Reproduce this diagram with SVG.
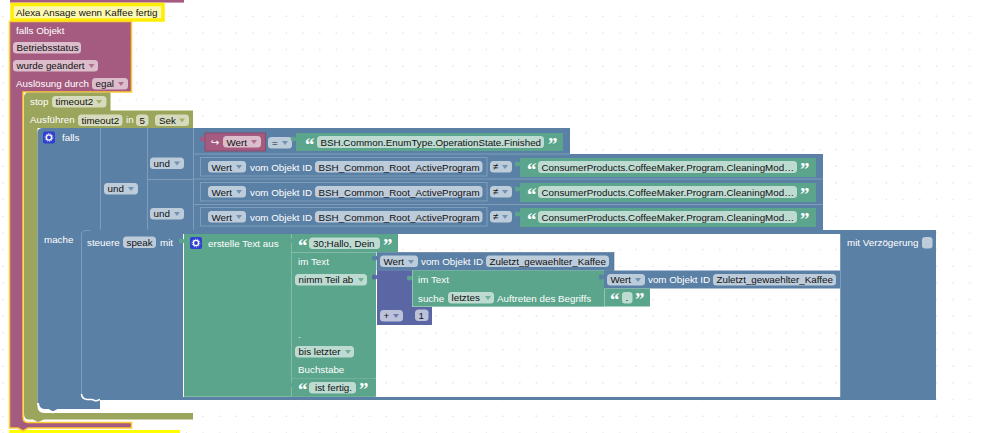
<svg xmlns="http://www.w3.org/2000/svg" xmlns:xlink="http://www.w3.org/1999/xlink" width="983" height="433" viewBox="0 0 983 433">
<style>
text{font-family:"Liberation Sans",Arial,sans-serif;font-size:9.8px}
.w{fill:#fff}.k{fill:#111}
.q{font-family:"Liberation Serif",serif;font-size:19px;font-weight:bold;fill:#fff}
.fl{fill:#fff;fill-opacity:.6}
.pk{fill:#a55b80}.ol{fill:#9ba55b}.bl{fill:#5b80a5}.gr{fill:#5ba58c}.pu{fill:#5b67a5}
.lb{stroke:#7f9cb9;stroke-width:1;fill:none}
.lg{stroke:#82bba7;stroke-width:1;fill:none}
.a{fill:#5b80a5;fill-opacity:.75}
.ag{fill:#5ba58c;fill-opacity:.8}
.ap{fill:#a55b80;fill-opacity:.8}
.ao{fill:#9ba55b}
.au{fill:#5b67a5}
</style>
<defs>
<pattern id="grid" patternUnits="userSpaceOnUse" x="2.67" y="-0.67" width="16.667" height="16.667">
<path d="M0,0H1.2M15.667,0H16.667M0.2,15.9V16.667M0.2,0V1" stroke="#dcdcdc" stroke-width="0.8" fill="none"/>
</pattern>
<path id="tri" d="M0,0h6l-3,4z"/>
<path id="tab" d="M0,0c0,4 -5,-3 -5,3s5,-1 5,3z"/>
<g id="gear"><rect width="12" height="12" rx="2" fill="#2f3fd0"/><circle cx="6" cy="6" r="2.600" fill="none" stroke="#fff" stroke-width="1.400"/><circle cx="6" cy="6" r="3.900" fill="none" stroke="#fff" stroke-width=".8" stroke-dasharray="1.200 1.200"/></g>
</defs>
<rect width="983" height="433" fill="#fff"/>
<rect width="983" height="433" fill="url(#grid)"/>

<g id="block-top"><rect class="pk" x="10" y="0" width="174" height="2.600"/></g>

<g id="comment-bottom"><rect x="9" y="430" width="171" height="3" fill="#ffff00"/></g>
<g id="comment">
<path d="M12,4.500H163V20H12z" fill="#fbf8b4" stroke="#ffee00" stroke-width="3.500"/>
<text class="k" x="16" y="15.500">Alexa Ansage wenn Kaffee fertig</text>
</g>

<g id="trigger">
<path class="pk" d="M9.500,21.500H131.500V92H23V417Q23,422.500 28,422.500H131.500V428H28L23,431L18,428H9.500z" stroke="#fc3" stroke-width="1.500"/>
<text class="w" x="16" y="33.500">falls Objekt</text>
<rect class="fl" x="13" y="42" width="68" height="11.500" rx="3.500"/><text class="k" x="16.500" y="51">Betriebsstatus</text>
<rect class="fl" x="13" y="60" width="85" height="11.500" rx="3.500"/><text class="k" x="16.500" y="69">wurde geändert</text><use href="#tri" class="ap" x="88.500" y="64"/>
<text class="w" x="16" y="87">Auslösung durch</text>
<rect class="fl" x="92" y="78" width="36" height="11.500" rx="3.500"/><text class="k" x="95.500" y="87">egal</text><use href="#tri" class="ap" x="118" y="82"/>
</g>

<g id="timeout">
<path class="ol" d="M24,97Q24,92.500 29,92.500H110.500V110.500H193V128H37.500V406Q37.500,413 44,413H193V419.500H44L38,422L33,419.500H29Q24,419.500 24,414z"/>
<text class="w" x="30" y="105">stop</text>
<rect class="fl" x="52" y="96" width="54.500" height="11.500" rx="3.500"/><text class="k" x="55.500" y="105">timeout2</text><use href="#tri" class="ao" x="96" y="100" fill-opacity=".8"/>
<text class="w" x="30" y="123">Ausführen</text>
<rect class="fl" x="78" y="114.500" width="44.500" height="11.500" rx="3.500"/><text class="k" x="81.500" y="123.500">timeout2</text>
<text class="w" x="126" y="123">in</text>
<rect class="fl" x="136" y="114.500" width="12.500" height="11.500" rx="3.500"/><text class="k" x="139.500" y="123.500">5</text>
<rect class="fl" x="155" y="114.500" width="34" height="11.500" rx="3.500"/><text class="k" x="159" y="123.500">Sek</text><use href="#tri" class="ao" x="179" y="118.500" fill-opacity=".8"/>
</g>

<g id="if-block">
<path class="bl" d="M37.500,133Q37.500,128 43,128H570V154H823V230.500H100V409H58L53,412L48,409H43Q37.500,409 37.500,403z"/>
<path d="M38,403Q38.500,409.500 44,410H48L53,412.500L58,410H100.500" fill="none" stroke="#fff" stroke-width="2"/>
<path class="lb" d="M100.500,128V230M147.500,128V230M193.500,128V230M193.500,154H570M147.500,179.500H193.500M193.500,179H823M193.500,204.500H823"/>
<use href="#gear" x="43" y="131.500"/>
<text class="w" x="62" y="141">falls</text>
<rect class="fl" x="104" y="183" width="34" height="11.500" rx="3.500"/><text class="k" x="107.500" y="192">und</text><use href="#tri" class="a" x="128" y="187"/>
<rect class="fl" x="150" y="157.500" width="34" height="11.500" rx="3.500"/><text class="k" x="153.500" y="166.500">und</text><use href="#tri" class="a" x="174" y="161.500"/>
<rect class="fl" x="150" y="208" width="34" height="11.500" rx="3.500"/><text class="k" x="153.500" y="217">und</text><use href="#tri" class="a" x="174" y="212"/>
</g>

<g id="value-wert-1">
<use href="#tab" class="pk" x="205" y="136"/>
<rect class="pk" x="205" y="133" width="60.500" height="18" stroke="#8a4a6a"/>
<text class="w" x="211" y="146" style="font-family:'DejaVu Sans',sans-serif;font-size:10px">↪</text>
<rect class="fl" x="223" y="136" width="38" height="11.500" rx="3.500"/><text class="k" x="226.500" y="145.500">Wert</text><use href="#tri" class="ap" x="251" y="140"/>
<rect class="fl" x="268" y="137" width="24" height="11.500" rx="3.500"/><text class="k" x="272" y="146">=</text><use href="#tri" class="a" x="282" y="141"/>
</g>
<g id="text-finished">
<use href="#tab" class="gr" x="296" y="136"/>
<rect class="gr" x="296" y="133" width="267" height="18"/>
<text class="q" x="305" y="151">“</text>
<rect class="fl" x="317" y="136" width="227" height="12" rx="3.500"/><text class="k" x="320.500" y="145.500">BSH.Common.EnumType.OperationState.Finished</text>
<text class="q" x="548" y="151">”</text>
</g>

<g id="compare-2">
<use href="#tab" class="bl" x="200" y="160"/>
<rect class="bl" x="200.500" y="157.500" width="286.500" height="18.500" stroke="#7f9cb9"/>
<rect class="fl" x="208" y="161" width="38" height="11.500" rx="3.500"/><text class="k" x="211.500" y="170.500">Wert</text><use href="#tri" class="a" x="236" y="165"/>
<text class="w" x="250" y="170.500">vom Objekt ID</text>
<rect class="fl" x="315" y="161" width="167.500" height="11.500" rx="3.500"/><text class="k" x="318.500" y="170.500">BSH_Common_Root_ActiveProgram</text>
<rect class="fl" x="490" y="161" width="22" height="11.500" rx="3.500"/><text class="k" x="493" y="170">≠</text><use href="#tri" class="a" x="502" y="165"/>
<use href="#tab" class="gr" x="520" y="161"/>
<rect class="gr" x="520" y="158" width="296" height="19"/>
<text class="q" x="527" y="176">“</text>
<rect class="fl" x="538" y="161" width="259" height="12" rx="3.500"/><text class="k" x="541.500" y="170.500">ConsumerProducts.CoffeeMaker.Program.CleaningMod…</text>
<text class="q" x="800" y="176">”</text>
</g>
<g id="compare-3">
<use href="#tab" class="bl" x="200" y="185"/>
<rect class="bl" x="200.500" y="182.500" width="286.500" height="18.500" stroke="#7f9cb9"/>
<rect class="fl" x="208" y="186" width="38" height="11.500" rx="3.500"/><text class="k" x="211.500" y="195.500">Wert</text><use href="#tri" class="a" x="236" y="190"/>
<text class="w" x="250" y="195.500">vom Objekt ID</text>
<rect class="fl" x="315" y="186" width="167.500" height="11.500" rx="3.500"/><text class="k" x="318.500" y="195.500">BSH_Common_Root_ActiveProgram</text>
<rect class="fl" x="490" y="186" width="22" height="11.500" rx="3.500"/><text class="k" x="493" y="195">≠</text><use href="#tri" class="a" x="502" y="190"/>
<use href="#tab" class="gr" x="520" y="186"/>
<rect class="gr" x="520" y="183" width="296" height="19"/>
<text class="q" x="527" y="201">“</text>
<rect class="fl" x="538" y="186" width="259" height="12" rx="3.500"/><text class="k" x="541.500" y="195.500">ConsumerProducts.CoffeeMaker.Program.CleaningMod…</text>
<text class="q" x="800" y="201">”</text>
</g>
<g id="compare-4">
<use href="#tab" class="bl" x="200" y="210"/>
<rect class="bl" x="200.500" y="207.500" width="286.500" height="18.500" stroke="#7f9cb9"/>
<rect class="fl" x="208" y="211" width="38" height="11.500" rx="3.500"/><text class="k" x="211.500" y="220.500">Wert</text><use href="#tri" class="a" x="236" y="215"/>
<text class="w" x="250" y="220.500">vom Objekt ID</text>
<rect class="fl" x="315" y="211" width="167.500" height="11.500" rx="3.500"/><text class="k" x="318.500" y="220.500">BSH_Common_Root_ActiveProgram</text>
<rect class="fl" x="490" y="211" width="22" height="11.500" rx="3.500"/><text class="k" x="493" y="220">≠</text><use href="#tri" class="a" x="502" y="215"/>
<use href="#tab" class="gr" x="520" y="211"/>
<rect class="gr" x="520" y="208" width="296" height="19"/>
<text class="q" x="527" y="226">“</text>
<rect class="fl" x="538" y="211" width="259" height="12" rx="3.500"/><text class="k" x="541.500" y="220.500">ConsumerProducts.CoffeeMaker.Program.CleaningMod…</text>
<text class="q" x="800" y="226">”</text>
</g>

<g id="mache-label"><text class="w" x="44" y="242.500">mache</text></g>

<g id="speak-block">
<path class="bl" d="M81.500,235Q81.500,230 86,230H90L95,232L100,230H936V400H100L96,399.500H86Q81.500,399.500 81.500,395z"/>
<rect x="183" y="234" width="657" height="163" fill="#fff"/>
<rect x="183" y="234" width="657" height="163" fill="url(#grid)"/>
<path class="lb" d="M81.500,394V235Q81.500,230.500 86,230.500H90M840.500,234V397"/>
<path d="M81.500,394Q82,399 87,399.500H92L96,401L100,399.500" fill="none" stroke="#fff" stroke-width="1.600"/>
<text class="w" x="87" y="246">steuere</text>
<rect class="fl" x="123" y="236.500" width="33" height="11.500" rx="3.500"/><text class="k" x="126.500" y="246">speak</text>
<text class="w" x="160" y="246">mit</text>
<text class="w" x="847" y="246">mit Verzögerung</text>
<rect class="fl" x="922" y="237" width="10.500" height="11.500" rx="3"/>
</g>

<g id="text-join">
<use href="#tab" class="gr" x="184" y="238"/>
<path class="gr" d="M184,234H376V396H184z"/>
<path class="lg" d="M291.500,234V396M291.500,252.500H376M291.500,378.500H376M184,396.500H376"/>
<use href="#gear" x="190" y="237"/>
<text class="w" x="208" y="247">erstelle Text aus</text>
</g>
<g id="text-hallo">
<rect class="gr" x="292" y="234" width="106" height="18"/>
<use href="#tab" class="gr" x="292" y="238"/>
<text class="q" x="298" y="252">“</text>
<rect class="fl" x="309" y="237.500" width="71" height="11.500" rx="3.500"/><text class="k" x="313" y="247">30;Hallo, Dein</text>
<text class="q" x="383" y="252">”</text>
</g>
<g id="substring">
<text class="w" x="298" y="265">im Text</text>
<rect class="fl" x="295" y="274" width="72" height="11.500" rx="3.500"/><text class="k" x="298.500" y="283">nimm Teil ab</text><use href="#tri" class="ag" x="358" y="278"/>
<text class="w" x="298" y="338">.</text>
<rect class="fl" x="295" y="346" width="59" height="11.500" rx="3.500"/><text class="k" x="298.500" y="355">bis letzter</text><use href="#tri" class="ag" x="345" y="350"/>
<text class="w" x="298" y="373">Buchstabe</text>
</g>
<g id="value-wert-kaffee">
<use href="#tab" class="bl" x="377" y="255"/>
<rect class="bl" x="377" y="252.500" width="237" height="18" stroke="#4f7296" stroke-width=".6"/>
<rect class="fl" x="380" y="255.500" width="38" height="11.500" rx="3.500"/><text class="k" x="383.500" y="265">Wert</text><use href="#tri" class="a" x="408" y="260"/>
<text class="w" x="421" y="265">vom Objekt ID</text>
<rect class="fl" x="486" y="255.500" width="123" height="11.500" rx="3.500"/><text class="k" x="489.500" y="265">Zuletzt_gewaehlter_Kaffee</text>
</g>
<g id="math-plus">
<path class="pu" d="M377,270.500H412V325H377z"/>
<use href="#tab" class="pu" x="377" y="274"/>
<rect class="fl" x="380" y="310" width="23" height="11.500" rx="3.500"/><text class="k" x="383.500" y="319">+</text><use href="#tri" class="au" x="393" y="314" fill-opacity=".8"/>
</g>
<g id="num-1">
<rect class="pu" x="412" y="307" width="20" height="18"/>
<rect class="fl" x="415" y="309.500" width="13.500" height="11.500" rx="3.500"/><text class="k" x="418.500" y="319">1</text>
</g>
<g id="indexof">
<rect class="gr" x="412.500" y="270.500" width="192" height="36" stroke="#7fbba6" stroke-width=".6"/>
<use href="#tab" class="gr" x="412" y="275"/>
<text class="w" x="418" y="283">im Text</text>
<text class="w" x="418" y="301.500">suche</text>
<rect class="fl" x="448" y="292" width="46" height="11.500" rx="3.500"/><text class="k" x="451.500" y="301">letztes</text><use href="#tri" class="ag" x="485" y="296"/>
<text class="w" x="497" y="301.500">Auftreten des Begriffs</text>
</g>
<g id="value-wert-kaffee2">
<use href="#tab" class="bl" x="604" y="274"/>
<rect class="bl" x="604" y="270.500" width="236" height="18"/>
<rect class="fl" x="607" y="274" width="38" height="11.500" rx="3.500"/><text class="k" x="610.500" y="283">Wert</text><use href="#tri" class="a" x="635" y="278"/>
<text class="w" x="648" y="283">vom Objekt ID</text>
<rect class="fl" x="713" y="274" width="123" height="11.500" rx="3.500"/><text class="k" x="716.500" y="283">Zuletzt_gewaehlter_Kaffee</text>
</g>
<g id="text-dot">
<rect class="gr" x="605" y="288.500" width="45" height="18"/>
<text class="q" x="610" y="306">“</text>
<rect class="fl" x="622" y="292" width="10.500" height="11.500" rx="3"/><text class="k" x="625.500" y="301">.</text>
<text class="q" x="635" y="306">”</text>
</g>
<g id="text-fertig">
<rect class="gr" x="292" y="378.500" width="82" height="18"/>
<use href="#tab" class="gr" x="292" y="382"/>
<text class="q" x="298" y="396">“</text>
<rect class="fl" x="309" y="382" width="47" height="11.500" rx="3.500"/><text class="k" x="315" y="391">ist fertig.</text>
<text class="q" x="359" y="396">”</text>
</g>
</svg>
